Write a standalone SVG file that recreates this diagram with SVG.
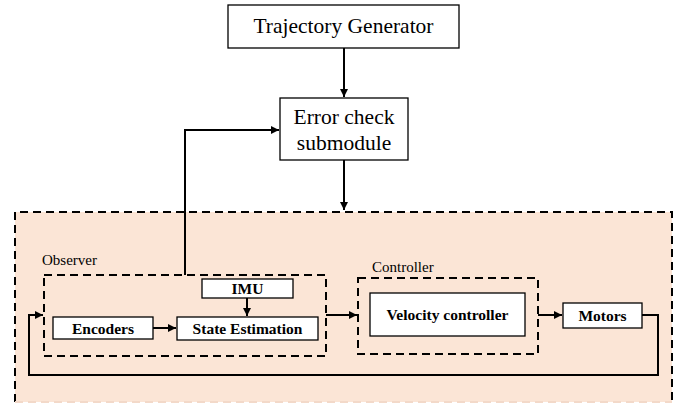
<svg xmlns="http://www.w3.org/2000/svg" width="690" height="404" viewBox="0 0 690 404">
<defs>
<style>
.box{fill:#fff;stroke:#000;stroke-width:1.3}
.dash{fill:none;stroke:#000;stroke-width:2;stroke-dasharray:8,5}
.conn{fill:none;stroke:#000;stroke-width:2}
.t1{font-family:"Liberation Serif","Times New Roman",serif;font-size:21.5px;fill:#000;text-anchor:middle}
.tb{font-family:"Liberation Serif","Times New Roman",serif;font-size:15.5px;font-weight:bold;fill:#000;text-anchor:middle}
.tl{font-family:"Liberation Serif","Times New Roman",serif;font-size:15px;fill:#000}
</style>
<marker id="ah" viewBox="0 0 10 10" refX="10" refY="5" markerWidth="4" markerHeight="4" orient="auto" markerUnits="strokeWidth">
<path d="M0,0 L10,5 L0,10 z" fill="#000"/>
</marker>
</defs>
<rect width="690" height="404" fill="#fff"/>
<g id="system">
<rect x="15" y="212" width="657" height="190" fill="#FBE5D6"/>
<path d="M15,402 L15,212 L672,212 L672,402" class="dash"/>
<path d="M15,402 L672,402" fill="none" stroke="#f3d9c9" stroke-width="2" stroke-dasharray="8,5"/>
</g>
<g id="observer">
<rect x="44" y="275" width="282" height="81" class="dash"/>
<text x="42" y="265" class="tl">Observer</text>
</g>
<g id="controller">
<rect x="358" y="278" width="180" height="76" class="dash"/>
<text x="372" y="272" class="tl">Controller</text>
</g>
<g id="trajectory">
<rect x="228" y="5" width="231" height="43" class="box"/>
<text x="343.5" y="33" class="t1">Trajectory Generator</text>
</g>
<g id="errorcheck">
<rect x="280" y="98" width="128" height="62" class="box"/>
<text x="344" y="124" class="t1">Error check</text>
<text x="344" y="150" class="t1">submodule</text>
</g>
<g id="imu">
<rect x="202" y="279" width="91" height="19" class="box"/>
<text x="247.5" y="294" class="tb">IMU</text>
</g>
<g id="encoders">
<rect x="53" y="317" width="100" height="22" class="box"/>
<text x="103" y="333.5" class="tb">Encoders</text>
</g>
<g id="stateest">
<rect x="177" y="317" width="141" height="23" class="box"/>
<text x="247.5" y="333.5" class="tb">State Estimation</text>
</g>
<g id="velocity">
<rect x="370" y="293" width="155" height="43" class="box"/>
<text x="447.5" y="320" class="tb">Velocity controller</text>
</g>
<g id="motors">
<rect x="563" y="303" width="79" height="25" class="box"/>
<text x="602.5" y="321" class="tb">Motors</text>
</g>
<g id="connectors">
<path d="M344,48 L344,97" class="conn" marker-end="url(#ah)"/>
<path d="M344,160 L344,210" class="conn" marker-end="url(#ah)"/>
<path d="M185,275 L185,130 L279,130" class="conn" marker-end="url(#ah)"/>
<path d="M247,298 L247,316" class="conn" marker-end="url(#ah)"/>
<path d="M153,328 L176,328" class="conn" marker-end="url(#ah)"/>
<path d="M326,315 L357,315" class="conn" marker-end="url(#ah)"/>
<path d="M538,315 L562,315" class="conn" marker-end="url(#ah)"/>
<path d="M642,315 L658,315 L658,375 L29,375 L29,315 L43,315" class="conn" marker-end="url(#ah)"/>
</g>
</svg>
